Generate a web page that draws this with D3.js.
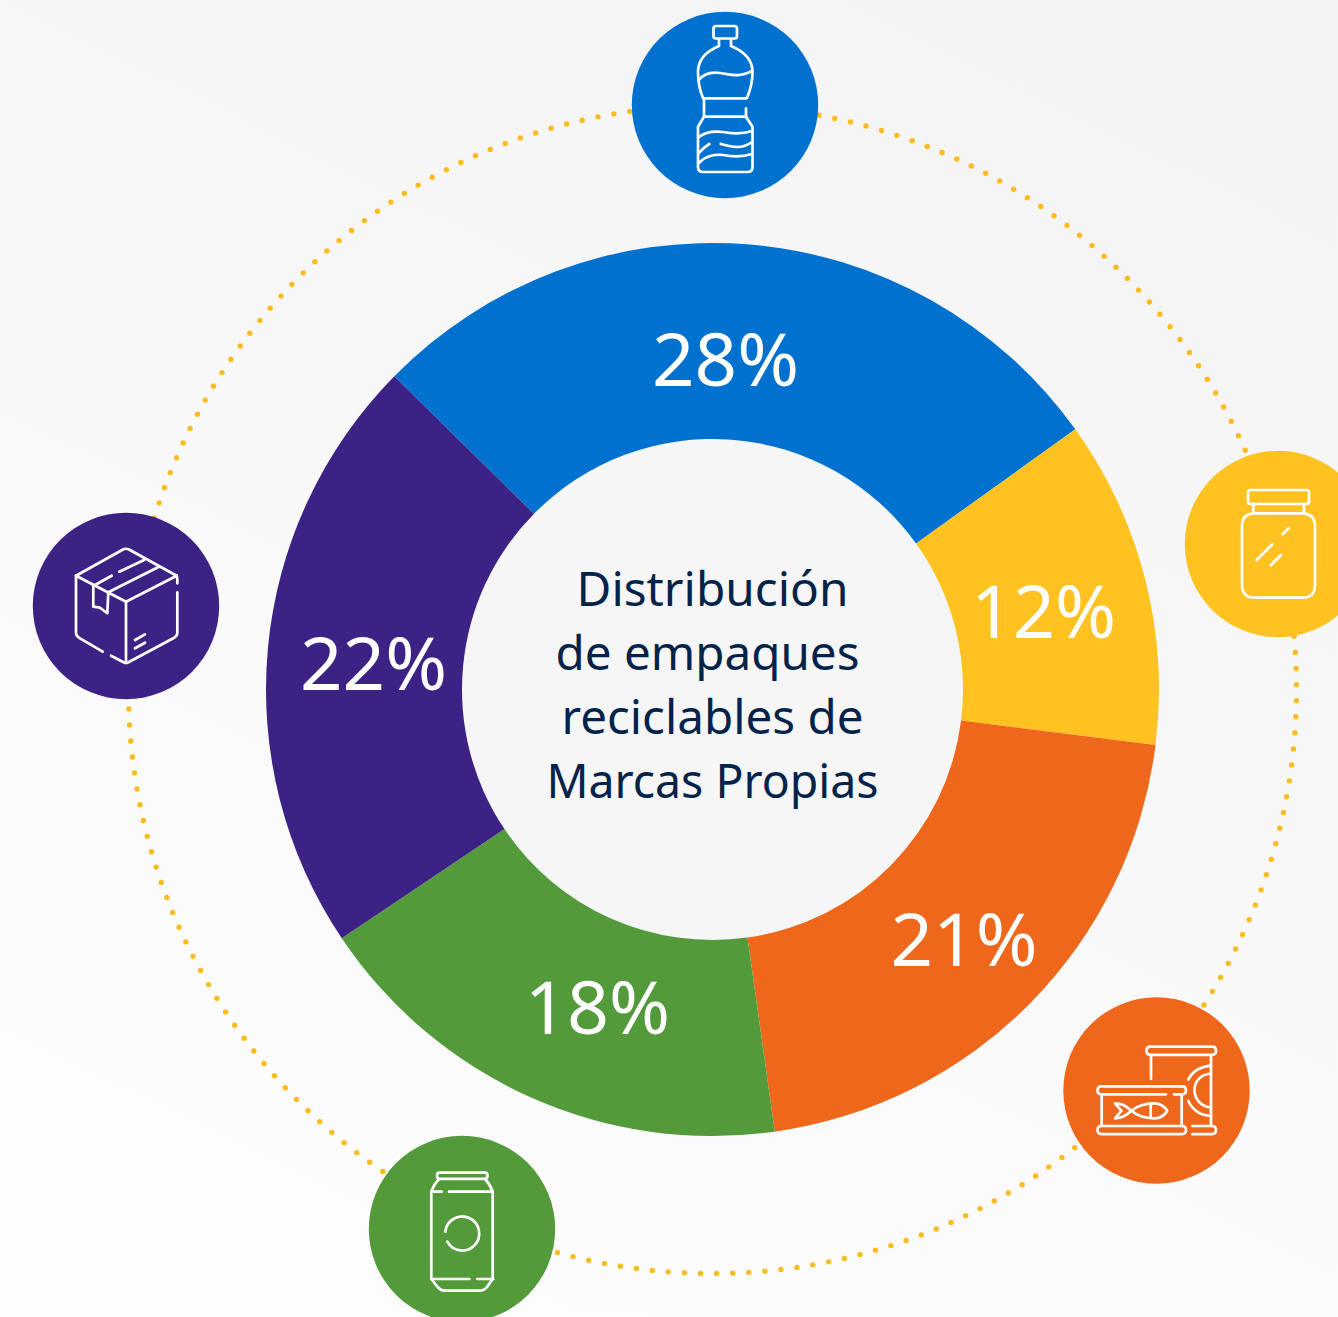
<!DOCTYPE html>
<html><head><meta charset="utf-8">
<script src="https://cdn.jsdelivr.net/npm/d3@7/dist/d3.min.js"></script>
<style>html,body{margin:0;padding:0;background:#f7f7f7}svg{display:block}</style>
</head><body><svg id="c" width="1338" height="1317"></svg>
<script>
const categories = ["Plástico","Vidrio","Metal conserva","Lata","Cartón"];
const values = [28,12,21,18,22];
const labels = ["28%","12%","21%","18%","22%"];
const colors = ["#0071ce","#ffc220","#ef671b","#529a3a","#3c2285"];
const centerLines = ["Distribución","de empaques","reciclables de","Marcas Propias"];

const W=1338,H=1317,cx=712.5,cy=689.5,R=446.5,r=250.5;
const svg=d3.select("#c");
const defs=svg.append("defs");
const g=defs.append("linearGradient").attr("id","bg").attr("x1",0.75).attr("y1",0).attr("x2",0.25).attr("y2",1);
g.append("stop").attr("offset",0).attr("stop-color","#f4f4f4");
g.append("stop").attr("offset",1).attr("stop-color","#fdfdfd");
svg.append("rect").attr("width",W).attr("height",H).attr("fill","url(#bg)");

// dotted ring (its seam falls under the top badge)
const ringR=584,dotCount=228,dotAngle=2*Math.PI/227.8,phase=Math.atan2(-574.5,106.5);
svg.append("g").selectAll("circle").data(d3.range(dotCount)).join("circle")
 .attr("cx",i=>cx+ringR*Math.cos(phase+i*dotAngle))
 .attr("cy",i=>cy+ringR*Math.sin(phase+i*dotAngle))
 .attr("r",2.7).attr("fill","#fdbb1e");

// donut
const start=-45.45*Math.PI/180;
const pie=d3.pie().sort(null).startAngle(start).endAngle(start+2*Math.PI);
const arc=d3.arc().innerRadius(r).outerRadius(R);
const arcs=pie(values);
const ch=svg.append("g").attr("transform",`translate(${cx},${cy})`);
ch.append("circle").attr("r",r).attr("fill","#f6f6f6");
ch.selectAll("path").data(arcs).join("path").attr("d",arc).attr("fill",(d,i)=>colors[i]);

// percent labels
const labelPos=[[725.5,386],[1043.5,638],[964,966],[597.5,1034],[373.5,690]];
const labelW=[147,145,147,145,147];
svg.append("g").selectAll("text").data(labels).join("text")
 .attr("x",(d,i)=>labelPos[i][0]).attr("y",(d,i)=>labelPos[i][1])
 .attr("text-anchor","middle").attr("fill","#fff")
 .attr("font-family","'Noto Sans'").attr("font-weight",400).attr("font-size",73)
 .attr("textLength",(d,i)=>labelW[i]).attr("lengthAdjust","spacingAndGlyphs").text(d=>d);

// centre title
const lineW=[272,304,302,332];
const lineX=[712.5,707.5,712.5,712.5];
const lineY=[606,670,734,798];
svg.append("g").selectAll("text").data(centerLines).join("text")
 .attr("x",(d,i)=>lineX[i]).attr("y",(d,i)=>lineY[i]).attr("text-anchor","middle")
 .attr("fill","#04234a").attr("font-family","'Noto Sans'").attr("font-size",48)
 .attr("textLength",(d,i)=>lineW[i]).attr("lengthAdjust","spacingAndGlyphs").text(d=>d);

// icon badges
const badgePos=[[725,105],[1278,544],[1156.5,1090.5],[462,1229],[126,606]];
const icons=[
 // bottle
 ["M-9,-79H9.5q2.5,0 2.5,2.5V-69q0,2.5 -2.5,2.5H-9q-2.5,0 -2.5,-2.5V-76.5q0,-2.5 2.5,-2.5z",
  "M-6,-66V-59C-18,-54 -27,-46 -27,-33C-27,-22 -25,-14 -22,-7",
  "M6,-66V-59C18,-54 27.5,-46 27.5,-33C27.5,-22 25,-14 22,-7",
  "M-26,-25C-20,-33 -12,-33 -5,-32C3,-31 8,-29 14,-30C20,-31 24,-32 26.5,-34",
  "M-21,-6.7H21","M-21,-6.7V11.7H21V3.3",
  "M-21,11.7L-27,21.7V62q0,5 5,5H22.5q5,0 5,-5V21.7L21,11.7",
  "M-26,32C-20,27 -10,26 -2,27C8,29 18,29 27,26",
  "M-4.3,39C3,41 8,42 12,42C18,42 23,40 27,37",
  "M-26,48C-23,44 -19,41 -15.7,39",
  "M-26,58C-20,51 -10,49 -2,50C8,52 18,52 27,49"],
 // jar
 ["M-27.5,-54H28.5q2.5,0 2.5,2.5V-42.5q0,2.5 -2.5,2.5H-27.5q-2.5,0 -2.5,-2.5V-51.5q0,-2.5 2.5,-2.5z",
  "M-24.7,-40V-31M26,-40V-31",
  "M-23,-30.7H24q13,0 13,13V40.7q0,13 -13,13H-23q-13,0 -13,-13V-17.7q0,-13 13,-13z",
  "M-21.3,16L-5.7,0.3","M-7.3,21.3L3,11","M4.7,-10L10.7,-15.7"],
 // cans
 ["M-6,-43.8H55.5q4,0 4,4.1t-4,4.1H-6q-4,0 -4,-4.1t4,-4.1z",
  "M-5.5,-35.5V-11.5","M54.5,-35.5V35.5",
  "M35.8,35.5H55.5q4,0 4,4.1t-4,4.1H35.8",
  "M54.5,-24.8C44,-24 36,-19 31.8,-11","M31.8,10.5C36,19 44,25 54.5,25.5",
  "M54.5,-17C44,-16 38,-9 38,-0.5C38,8 44,16 54.5,17",
  "M9.5,3.8H-55q-4,0 -4,-4t4,-4H25.5q4,0 4,4t-4,4H17.5",
  "M-54.8,3.8V35.5M25.2,3.8V35.5",
  "M-55,35.5H25.5q4,0 4,4.1t-4,4.1H-55q-4,0 -4,-4.1t4,-4.1z",
  "M-25,20.3C-32,14 -36,13 -41.5,12.8L-35,20.3L-41.5,27.8C-36,27.5 -32,26.5 -25,20.3",
  "M-25,20.3C-18,14 -8,12.8 -2,12.8C4,12.8 8,16 10.8,20.3C8,25 4,27.8 -2,27.8C-8,27.8 -18,26.5 -25,20.3z",
  "M-5.8,13.3V27.3"],
 // drink can
 ["M-22.5,-56.3H23q2.5,0 2.5,3.1t-2.5,3.1H-22.5q-2.5,0 -2.5,-3.1t2.5,-3.1z",
  "M-22.7,-50Q-28,-45 -30.7,-37.3","M23,-50Q28,-45 30.7,-37.3",
  "M-30.7,-37.3H-20.3M-13,-37.3H30.7",
  "M-30.7,-37.3V50M30.7,-37.3V50",
  "M-30.7,50H7.3M15.3,50H31.3",
  "M-30.7,50L-24,58.5Q-21,61.7 -16,61.7H17Q22,61.7 25,58L30.7,50",
  "M-16.7,2.7A17,17 0 1 1 -14.7,12.7"],
 // box
 ["M-50,-30.3L-3,-56.5Q0,-58 3,-56.5L50.7,-30.3L0,-4.3L-50,-30.3",
  "M-50,-30.3V27.3Q-50,30 -46,32.3L-23.3,45.7",
  "M-15,49.7L-2,56.5Q0,57.5 2,56.5L47.3,32.3Q51.3,30 51.3,27.3V-13.7",
  "M51.3,-22.7V-26Q51.3,-29 50.7,-30.3",
  "M0,-4.3V56.7",
  "M-31,-21L-14.3,-30.3","M-6.7,-34.3L18,-46","M-17.7,-13.7L33,-39.3",
  "M-32.7,-21V0.7L-26,1.7L-18.7,7.3L-17.7,-13.7",
  "M9,34L19,28.3","M9,42.3L19,36.7"]
];
const b=svg.append("g").selectAll("g").data(badgePos).join("g").attr("transform",d=>`translate(${d[0]},${d[1]})`);
b.append("circle").attr("r",93.2).attr("fill",(d,i)=>colors[i]);
b.each(function(d,i){
  d3.select(this).selectAll("path").data(icons[i]).join("path").attr("d",p=>p)
   .attr("fill","none").attr("stroke","#fff").attr("stroke-width",2.7).attr("stroke-linecap","round").attr("stroke-linejoin","round");
});
</script></body></html>
